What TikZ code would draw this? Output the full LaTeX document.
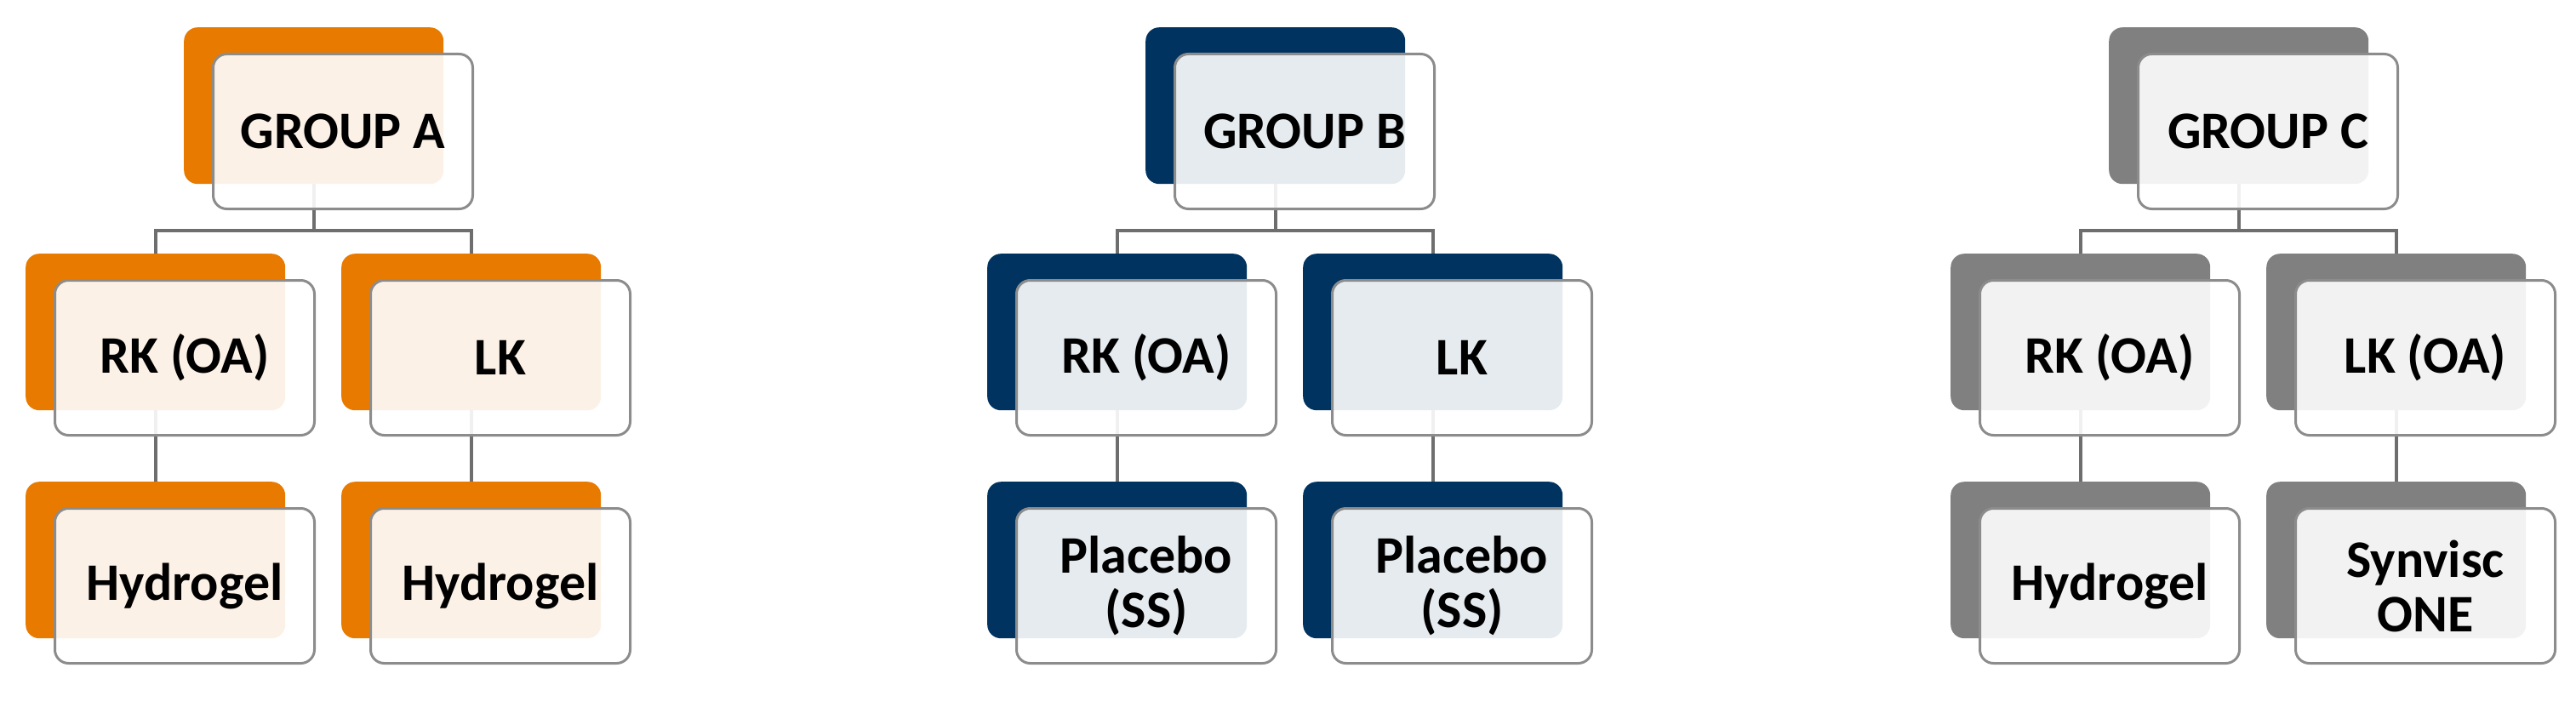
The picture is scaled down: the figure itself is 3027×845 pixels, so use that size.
\documentclass[tikz,border=0pt]{standalone}
\usepackage{fontspec}
\setmainfont{Carlito}
\definecolor{cA}{HTML}{E87A00}
\definecolor{cB}{HTML}{003360}
\definecolor{cC}{HTML}{808080}
\definecolor{edge}{HTML}{8C8C8C}
\definecolor{conn}{HTML}{6E6E6E}
\begin{document}
\begin{tikzpicture}[x=1pt,y=-1pt,
  back/.style={draw=none,fill=#1,rounded corners=16pt,minimum width=305pt,minimum height=184pt,anchor=north west,inner sep=0pt},
  front/.style={draw=edge,line width=3pt,fill=white,fill opacity=0.9,text opacity=1,rounded corners=16pt,minimum width=305pt,minimum height=182pt,anchor=north west,inner sep=0pt,align=center,font=\fontsize{62}{64}\selectfont\bfseries},
  conn/.style={draw=conn,line width=4pt}]
\useasboundingbox (0,0) rectangle (3027,845);
\newcommand\grp[8]{%
  \begin{scope}[xshift=#1]
  \node[back=#2] (#3p) at (216,32) {};
  \node[back=#2] (#3l) at (30,298) {};
  \node[back=#2] (#3r) at (401,298) {};
  \node[back=#2] (#3ll) at (30,566) {};
  \node[back=#2] (#3rr) at (401,566) {};
  \coordinate (#3bar) at ([yshift=-55pt]#3p.south);
  \draw[conn] (#3p.south) -- (#3bar);
  \draw[conn] (#3l.north) |- (#3bar) -| (#3r.north);
  \draw[conn] (#3l.south) -- (#3ll.north);
  \draw[conn] (#3r.south) -- (#3rr.north);
  \node[front] (#3pf) at (249,62) {#4};
  \node[front] (#3lf) at (63,328) {#5};
  \node[front] (#3rf) at (434,328) {#6};
  \node[front] (#3llf) at (63,596) {#7};
  \node[front] (#3rrf) at (434,596) {#8};
  \end{scope}}
\grp{0pt}{cA}{a}{GROUP A}{RK (OA)}{LK}{Hydrogel}{Hydrogel}
\grp{1130pt}{cB}{b}{GROUP B}{RK (OA)}{LK}{Placebo\\(SS)}{Placebo\\(SS)}
\grp{2262pt}{cC}{c}{GROUP C}{RK (OA)}{LK (OA)}{Hydrogel}{Synvisc\\ONE}
\end{tikzpicture}
\end{document}
